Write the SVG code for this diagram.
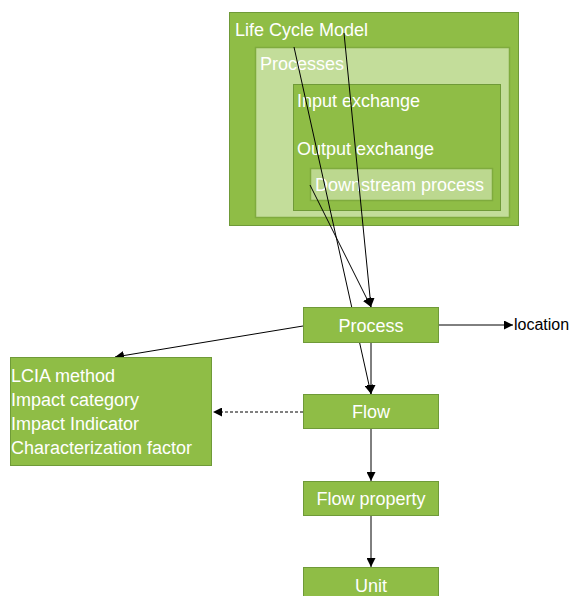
<svg xmlns="http://www.w3.org/2000/svg" width="571" height="596" viewBox="0 0 571 596">
<style>
.g{fill:#8fbd46;stroke:#6f9a38;stroke-width:1}
.l{fill:#c3dd9a;stroke:#7fab3e;stroke-width:1.5}
.t{font-family:"Liberation Sans",Arial,sans-serif;font-size:18px;fill:#ffffff}
.c{text-anchor:middle}
.k{fill:none;stroke:#000;stroke-width:1;marker-end:url(#a)}
.d{stroke-dasharray:3,2}
</style>
<defs>
<marker id="a" viewBox="0 0 10 10" refX="10" refY="5" markerWidth="9" markerHeight="9" markerUnits="userSpaceOnUse" orient="auto">
<path d="M0,0L10,5L0,10z" fill="#000"/>
</marker>
</defs>
<g id="life-cycle-model">
<rect class="g" x="229.5" y="12.5" width="289" height="213" stroke-width="1.5"/>
<text class="t" x="235" y="36">Life Cycle Model</text>
</g>
<g id="processes">
<rect class="l" x="255.5" y="47.5" width="254" height="170"/>
<text class="t" x="260" y="70">Processes</text>
</g>
<g id="exchanges">
<rect class="g" x="293.5" y="84.5" width="207" height="126" stroke-width="1.5"/>
<text class="t" x="297" y="107">Input exchange</text>
<text class="t" x="297" y="155">Output exchange</text>
</g>
<g id="downstream-process">
<rect class="l" x="310.5" y="168.5" width="182" height="32" style="fill:#bcd88f"/>
<text class="t" x="315" y="191">Downstream process</text>
</g>
<g id="connectors">
<line class="k" x1="344" y1="33" x2="371" y2="307"/>
<line class="k" x1="310" y1="185" x2="371" y2="307"/>
<line class="k" x1="294" y1="47" x2="371" y2="394"/>
<line class="k" x1="371" y1="343" x2="371" y2="394"/>
<line class="k" x1="439" y1="325" x2="513" y2="325"/>
<line class="k" x1="303" y1="326" x2="115" y2="357"/>
<line class="k d" x1="303" y1="412" x2="213" y2="412"/>
<line class="k" x1="371" y1="429" x2="371" y2="481"/>
<line class="k" x1="371" y1="515" x2="371" y2="567"/>
</g>
<g id="process">
<rect class="g" x="303.5" y="307.5" width="135" height="35"/>
<text class="t c" x="371" y="332">Process</text>
</g>
<g id="location">
<text x="514" y="330" style="font-family:'Liberation Sans',Arial,sans-serif;font-size:16px;fill:#000">location</text>
</g>
<g id="flow">
<rect class="g" x="303.5" y="394.5" width="135" height="34"/>
<text class="t c" x="371" y="418">Flow</text>
</g>
<g id="lcia">
<rect class="g" x="10.5" y="357.5" width="201" height="108"/>
<text class="t" x="11" y="382">LCIA method</text>
<text class="t" x="11" y="406">Impact category</text>
<text class="t" x="11" y="430">Impact Indicator</text>
<text class="t" x="11" y="454">Characterization factor</text>
</g>
<g id="flow-property">
<rect class="g" x="303.5" y="481.5" width="135" height="34"/>
<text class="t c" x="371" y="505">Flow property</text>
</g>
<g id="unit">
<rect class="g" x="303.5" y="567.5" width="135" height="34"/>
<text class="t c" x="371" y="592">Unit</text>
</g>
</svg>
